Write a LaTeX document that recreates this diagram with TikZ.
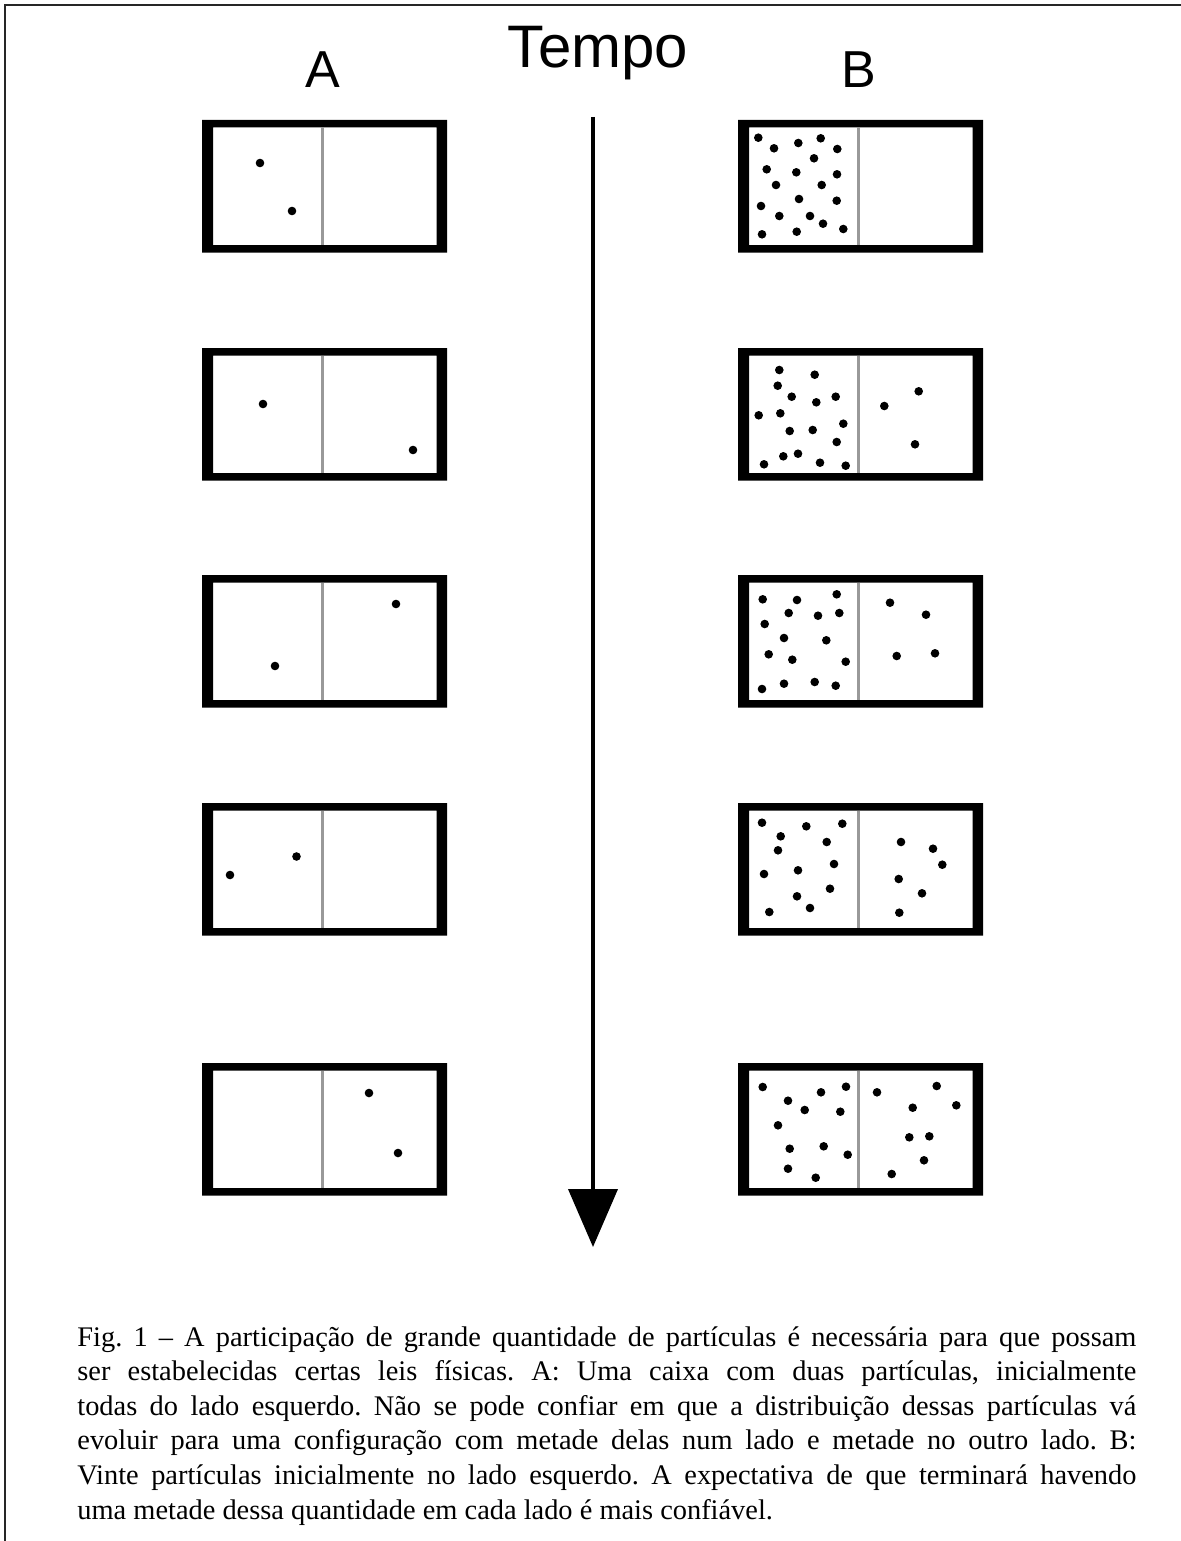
\documentclass[tikz,border=0pt]{standalone}
\usepackage{fontspec}
\setmainfont{Liberation Serif}
\newfontfamily\labelfont{Liberation Sans}
\usetikzlibrary{arrows.meta}
\frenchspacing

\tikzset{
  frameline/.style={line width=1pt, black!85},
  divider/.style={line width=1.5pt, black!40},
  particle/.style={fill=black},
  header/.style={font=\labelfont\fontsize{26}{30}\selectfont, anchor=base, inner sep=0pt},
  bigheader/.style={font=\labelfont\fontsize{30}{34}\selectfont, anchor=base, inner sep=0pt},
  timeaxis/.style={line width=2pt, -{Triangle[length=29pt,width=24.5pt]}},
  captionline/.style={anchor=base west, inner sep=0pt, font=\fontsize{14.2}{17}\selectfont},
}

% a two-compartment box: thick frame plus grey partition
% #1 left edge, #2 top edge (picture units)
\newcommand\twobox[2]{%
  \fill[even odd rule] (#1,#2) rectangle ++(245,132.5)
                       (#1+11,#2+7.5) rectangle ++(223.5,117.5);
  \draw[divider] (#1+120.5,#2+7.5) -- ++(0,117.5);
}

\begin{document}
\begin{tikzpicture}[x=0.5pt,y=-0.5pt]
\useasboundingbox (0,0) rectangle (1181,1541);
\fill[white] (0,0) rectangle (1181,1541);

% outer frame (left and top edges only)
\draw[frameline] (5,1541) -- (5,5) -- (1181,5);

% column headings
\node[header] (labA) at (322.5,88) {A};
\node[bigheader] (labT) at (598,68) {Tempo};
\node[header] (labB) at (858.5,88) {B};

% time axis
\coordinate (tstart) at (593,117);
\coordinate (tend) at (593,1247);
\draw[timeaxis] (tstart) -- (tend);

% column A: two particles
\foreach \t in {120,348,575,803,1063} { \twobox{202}{\t} }
\foreach \px/\py in {260/163, 292/211,
                     263/404, 413/450,
                     396/604, 275/666,
                     230/875, 296.5/856.5,
                     369/1093, 398/1153}
  \fill[particle] (\px,\py) circle[radius=2.15pt];

% column B: twenty particles
\foreach \t in {120,348,575,803,1063} { \twobox{738}{\t} }
\foreach \px/\py in {
  758.3/137.7, 774/148.3, 798.3/143, 820.7/138.3, 837.3/149,
  814/158.3, 766.7/169.3, 796.3/172.3, 837/174.3, 776/185,
  821.7/185, 799/199, 836.7/200.7, 761/206, 779.3/216,
  810/216, 823/223.7, 843.3/229, 762/234.3, 796.7/231.7,
  779.3/370, 814.7/374.7, 777.7/385.7, 791.7/396.7, 816.3/402.3,
  835.7/396.7, 758.7/415.3, 780.3/413.3, 843.3/423.7, 789.7/431,
  812.7/430, 836.7/442, 783.3/456.3, 798/453.7, 764/464.3,
  820/462.7, 845.7/465.7, 918.7/391.3, 884.3/406, 915/444.3,
  762.7/599.3, 797/600, 836.7/594.3, 788.7/613, 818/615.7,
  839.3/613, 764.7/624, 784/638, 826.3/640.3, 768.7/654.3,
  792.3/659.7, 845.7/661.7, 762/689, 784/683.7, 814.7/682,
  835.7/685.7, 890/602.7, 926/614.7, 896.7/656, 935/653.3,
  762/822.7, 806.3/826.3, 842.3/823.7, 780.7/836.3, 826.7/842,
  778/850.3, 834/864, 764/874, 798/870.3, 830/888.7,
  797/896.3, 769.3/912, 810/908, 901/842, 933/848.7,
  942.3/864.7, 898.7/879, 922/893.3, 899.3/912.7,
  762.7/1087, 788/1100.7, 821/1092.3, 846/1086.7, 804.7/1110,
  840.3/1111.7, 778/1125.3, 789.7/1148.7, 823.7/1146.3, 847.7/1154.7,
  788/1168.7, 815.7/1177.7, 877/1092.3, 936.7/1086, 912.7/1107.7,
  956.3/1105.3, 909.3/1137.3, 929.3/1136.3, 924/1160.3, 891.7/1174}
  \fill[particle] (\px,\py) circle[radius=2.15pt];

% caption, justified line by line
\node[captionline] (cap1) at (77,1346) {\makebox[529.5pt][s]{Fig. 1 – A participação de grande quantidade de partículas é necessária para que possam}};
\node[captionline] (cap2) at (77,1380.6) {\makebox[529.5pt][s]{ser estabelecidas certas leis físicas. A: Uma caixa com duas partículas, inicialmente}};
\node[captionline] (cap3) at (77,1415.2) {\makebox[529.5pt][s]{todas do lado esquerdo. Não se pode confiar em que a distribuição dessas partículas vá}};
\node[captionline] (cap4) at (77,1449.8) {\makebox[529.5pt][s]{evoluir para uma configuração com metade delas num lado e metade no outro lado. B:}};
\node[captionline] (cap5) at (77,1484.4) {\makebox[529.5pt][s]{Vinte partículas inicialmente no lado esquerdo. A expectativa de que terminará havendo}};
\node[captionline] (cap6) at (77,1519) {uma metade dessa quantidade em cada lado é mais confiável.};
\end{tikzpicture}
\end{document}
